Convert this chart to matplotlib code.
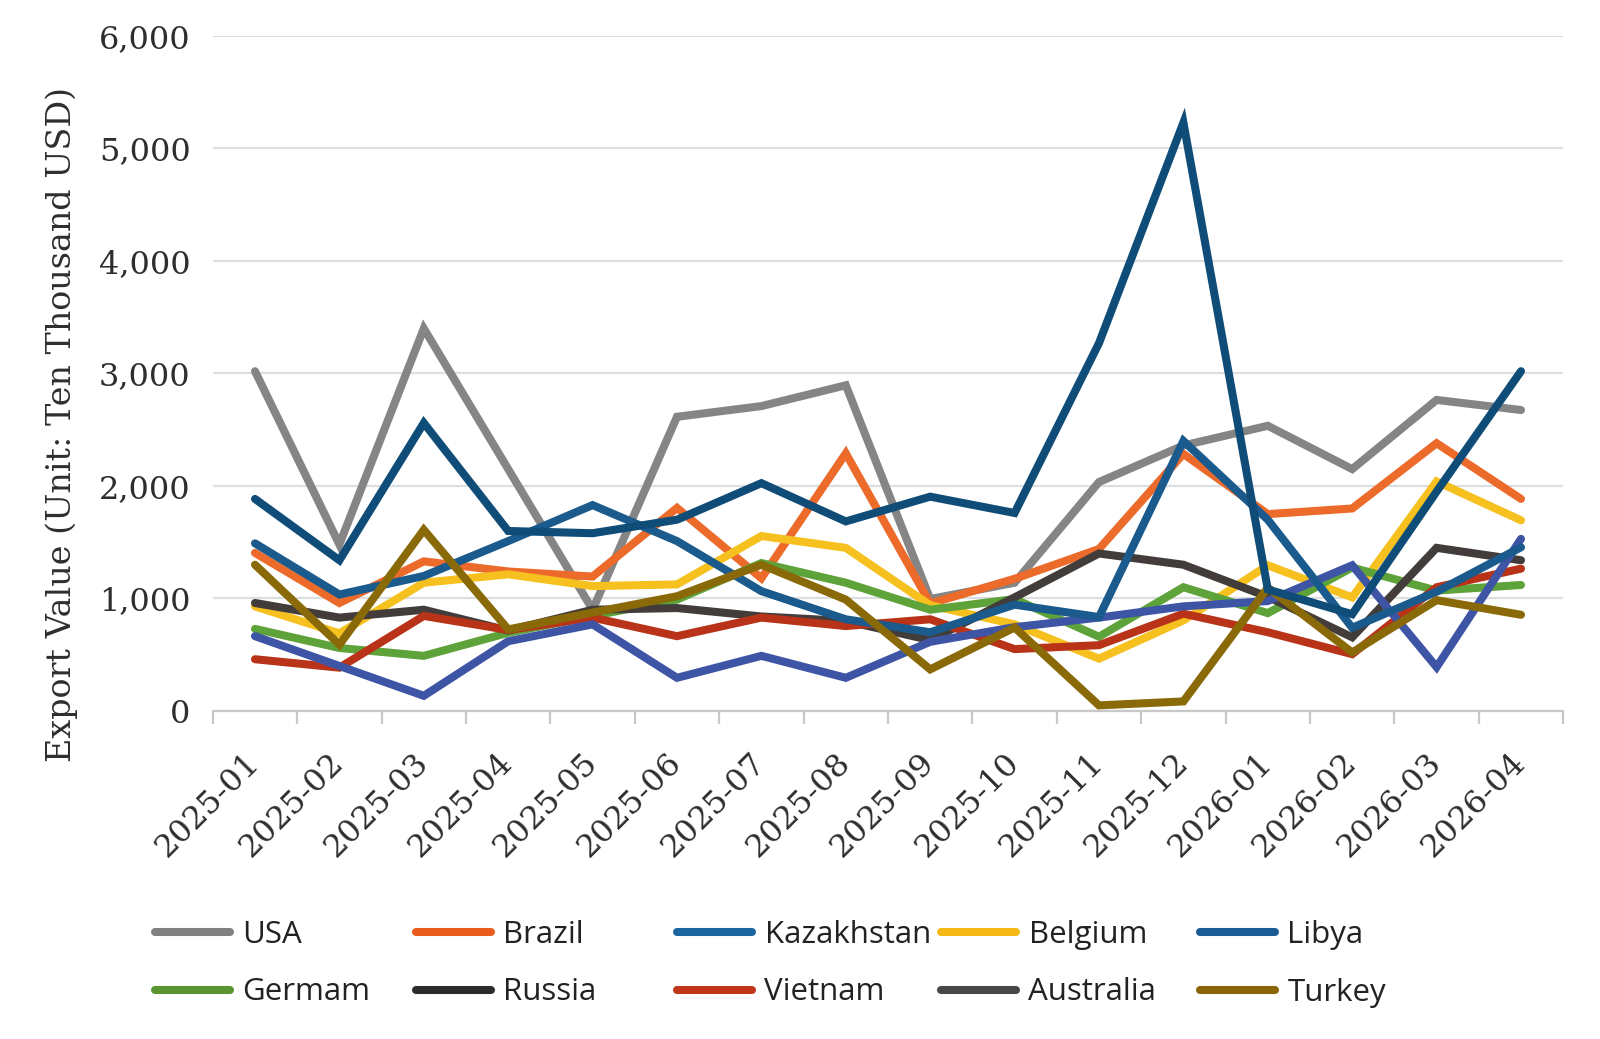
import matplotlib
matplotlib.use("Agg")
import matplotlib.pyplot as plt
from matplotlib.lines import Line2D
from matplotlib.ticker import FuncFormatter, FixedLocator

months = ['2025-01', '2025-02', '2025-03', '2025-04', '2025-05', '2025-06', '2025-07', '2025-08',
          '2025-09', '2025-10', '2025-11', '2025-12', '2026-01', '2026-02', '2026-03', '2026-04']

usa        = [3020, 1480, 3400, 2150, 900, 2615, 2710, 2895, 995, 1140, 2035, 2360, 2535, 2150, 2765, 2675]
brazil     = [1405, 960, 1330, 1240, 1195, 1805, 1180, 2290, 955, 1175, 1440, 2285, 1750, 1800, 2380, 1885]
kazakhstan = [1490, 1035, 1200, 1510, 1830, 1510, 1065, 815, 700, 945, 835, 2400, 1700, 740, 1060, 1455]
belgium    = [930, 690, 1140, 1215, 1110, 1125, 1555, 1450, 940, 770, 465, 805, 1295, 1010, 2040, 1695]
libya      = [1885, 1340, 2560, 1600, 1580, 1700, 2025, 1685, 1905, 1760, 3270, 5230, 1080, 860, 1950, 3020]
germam     = [730, 560, 490, 695, 845, 990, 1315, 1140, 900, 995, 660, 1100, 870, 1275, 1070, 1120]
russia     = [665, 400, 135, 620, 770, 295, 490, 295, 615, 745, 830, 930, 977, 1295, 390, 1530]
vietnam    = [460, 385, 845, 720, 830, 665, 830, 755, 815, 550, 585, 865, 700, 505, 1100, 1265]
australia  = [960, 830, 900, 715, 900, 915, 840, 800, 630, 1010, 1400, 1300, 1015, 655, 1450, 1340]
turkey     = [1300, 590, 1610, 725, 875, 1020, 1300, 990, 370, 742, 50, 85, 1096, 520, 985, 855]

names = ['USA', 'Brazil', 'Kazakhstan', 'Belgium', 'Libya',
         'Germam', 'Russia', 'Vietnam', 'Australia', 'Turkey']
series = [usa, brazil, kazakhstan, belgium, libya, germam, russia, vietnam, australia, turkey]
line_colors = ['#858585', '#ec6a2a', '#1a5a8c', '#f6c01e', '#0f4d78',
               '#5ea23a', '#3e55a6', '#b93319', '#423d3a', '#8a6a08']
legend_colors = ['#808080', '#ea5b1e', '#1a64a0', '#f5b918', '#1a5c95',
                 '#5a9431', '#2b2b2b', '#c0361a', '#474747', '#8a6506']
draw_order = [0, 1, 3, 5, 8, 7, 6, 2, 9, 4]

fig = plt.figure(figsize=(16, 10.39), dpi=100)
fig.patch.set_facecolor('white')
ax = fig.add_axes([0.133, 0.3157, 0.844, 0.6497])

x = list(range(len(months)))
for k, i in enumerate(draw_order):
    ax.plot(x, series[i], color=line_colors[i], lw=5.8, solid_capstyle='round',
            solid_joinstyle='miter', zorder=3 + k, clip_on=False)

ax.set_xlim(-0.5, len(months) - 0.5)
ax.set_ylim(0, 6000)
ax.set_yticks(range(0, 6001, 1000))
ax.yaxis.set_major_formatter(FuncFormatter(lambda v, p: f"{int(v):,}"))
ax.grid(axis='y', color='#dcdfe0', lw=1.6, zorder=0)
ax.set_axisbelow(True)

ax.set_xticks(x)
ax.set_xticklabels(months)
ax.xaxis.set_minor_locator(FixedLocator([i - 0.5 for i in range(len(months) + 1)]))
ax.tick_params(axis='x', which='major', length=0, pad=34)
ax.tick_params(axis='x', which='minor', length=9, width=1.6, color='#c8c8c8')
ax.tick_params(axis='y', length=0, pad=16)
for lab in ax.get_xticklabels():
    lab.set_rotation(45)
    lab.set_ha('right')
    lab.set_va('center')
    lab.set_rotation_mode('anchor')
for lab in ax.get_xticklabels() + ax.get_yticklabels():
    lab.set_fontfamily('DejaVu Serif')
    lab.set_fontsize(23)
    lab.set_color('#2e2e2e')

for s in ['top', 'right', 'left']:
    ax.spines[s].set_visible(False)
ax.spines['bottom'].set_color('#c8c8c8')
ax.spines['bottom'].set_linewidth(1.6)

ax.set_ylabel('Export Value (Unit: Ten Thousand USD)', fontfamily='DejaVu Serif',
              fontsize=24, color='#2e2e2e', va='center')
ax.yaxis.set_label_coords(-0.112, 0.424)

# legend: five columns of two entries each
col_x = [155, 416, 677, 941, 1200]
for c in range(5):
    hs = []
    for r in range(2):
        i = r * 5 + c
        hs.append(Line2D([0], [0], color=legend_colors[i], lw=5.8, solid_capstyle='round',
                         label=names[i]))
    fig.legend(handles=hs, loc='upper left', bbox_to_anchor=(col_x[c] / 1600, 1 - 920 / 1039),
               frameon=False, prop={'family': 'Open Sans', 'size': 22.5},
               handlelength=2.4, handletextpad=0.4, labelspacing=0.88,
               borderpad=0, borderaxespad=0, labelcolor='#222222')

fig.savefig('out.png', dpi=100, facecolor='white')
